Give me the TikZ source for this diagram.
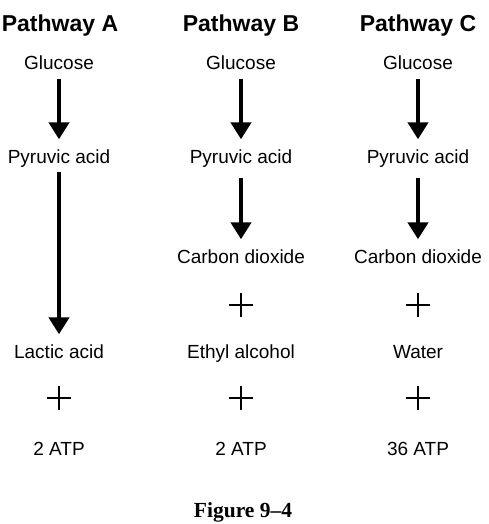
\documentclass[tikz,border=0pt]{standalone}
\usepackage{fontspec}
\setmainfont{Liberation Sans}
\newfontfamily\captionserif[Ligatures=TeX]{Liberation Serif}
\usepackage{tikz}
\usetikzlibrary{arrows.meta, positioning}
\tikzset{
  >=Triangle,
  rxnarrow/.style={-{Triangle[length=17pt, width=20pt]}, line width=4.3pt, shorten <=9pt, shorten >=10pt}
}

\begin{document}
\begin{tikzpicture}[x=1pt, y=-1pt,
    pathtitle/.style={font=\fontsize{23}{26}\selectfont\bfseries, inner sep=0pt, anchor=base},
    cpd/.style={font=\fontsize{19}{22}\selectfont, inner sep=0pt, text height=13.5pt, text depth=0pt, anchor=base},
    plusnode/.style={minimum size=24pt, inner sep=0pt,
      path picture={\draw[line width=1.4pt] (path picture bounding box.north) -- (path picture bounding box.south)
        (path picture bounding box.west) -- (path picture bounding box.east);}}]
    \useasboundingbox (0,0) rectangle (488,524);
    % Titles
    \node[pathtitle] (tA) at (60,32) {Pathway A};
    \node[pathtitle] (tB) at (241,32) {Pathway B};
    \node[pathtitle] (tC) at (418,32) {Pathway C};
    % Pathway A
    \node[cpd] (gA) at (59,70) {Glucose};
    \node[cpd] (pA) at (59,163) {Pyruvic acid};
    \node[cpd] (lA) at (59,358) {Lactic acid};
    \node[plusnode] (plA) at (59,398) {};
    \node[cpd] (atpA) at (59,455) {2 ATP};
    % Pathway B
    \node[cpd] (gB) at (241,70) {Glucose};
    \node[cpd] (pB) at (241,163) {Pyruvic acid};
    \node[cpd] (cB) at (241,263) {Carbon dioxide};
    \node[plusnode] (pl1B) at (241,305) {};
    \node[cpd] (eB) at (241,358) {Ethyl alcohol};
    \node[plusnode] (pl2B) at (241,398) {};
    \node[cpd] (atpB) at (241,455) {2 ATP};
    % Pathway C
    \node[cpd] (gC) at (418,70) {Glucose};
    \node[cpd] (pC) at (418,163) {Pyruvic acid};
    \node[cpd] (cC) at (418,263) {Carbon dioxide};
    \node[plusnode] (pl1C) at (418,305) {};
    \node[cpd] (wC) at (418,358) {Water};
    \node[plusnode] (pl2C) at (418,398) {};
    \node[cpd] (atpC) at (418,455) {36 ATP};
    % Arrows
    \draw[rxnarrow] (gA) -- (pA);
    \draw[rxnarrow] (pA) -- (lA);
    \draw[rxnarrow] (gB) -- (pB);
    \draw[rxnarrow, shorten <=15pt] (pB) -- (cB);
    \draw[rxnarrow] (gC) -- (pC);
    \draw[rxnarrow, shorten <=15pt] (pC) -- (cC);
    % Caption
    \node[font=\captionserif\fontsize{21.5}{24}\selectfont\bfseries, inner sep=0pt, anchor=base] (fig) at (243,517) {Figure 9--4};
\end{tikzpicture}
\end{document}
